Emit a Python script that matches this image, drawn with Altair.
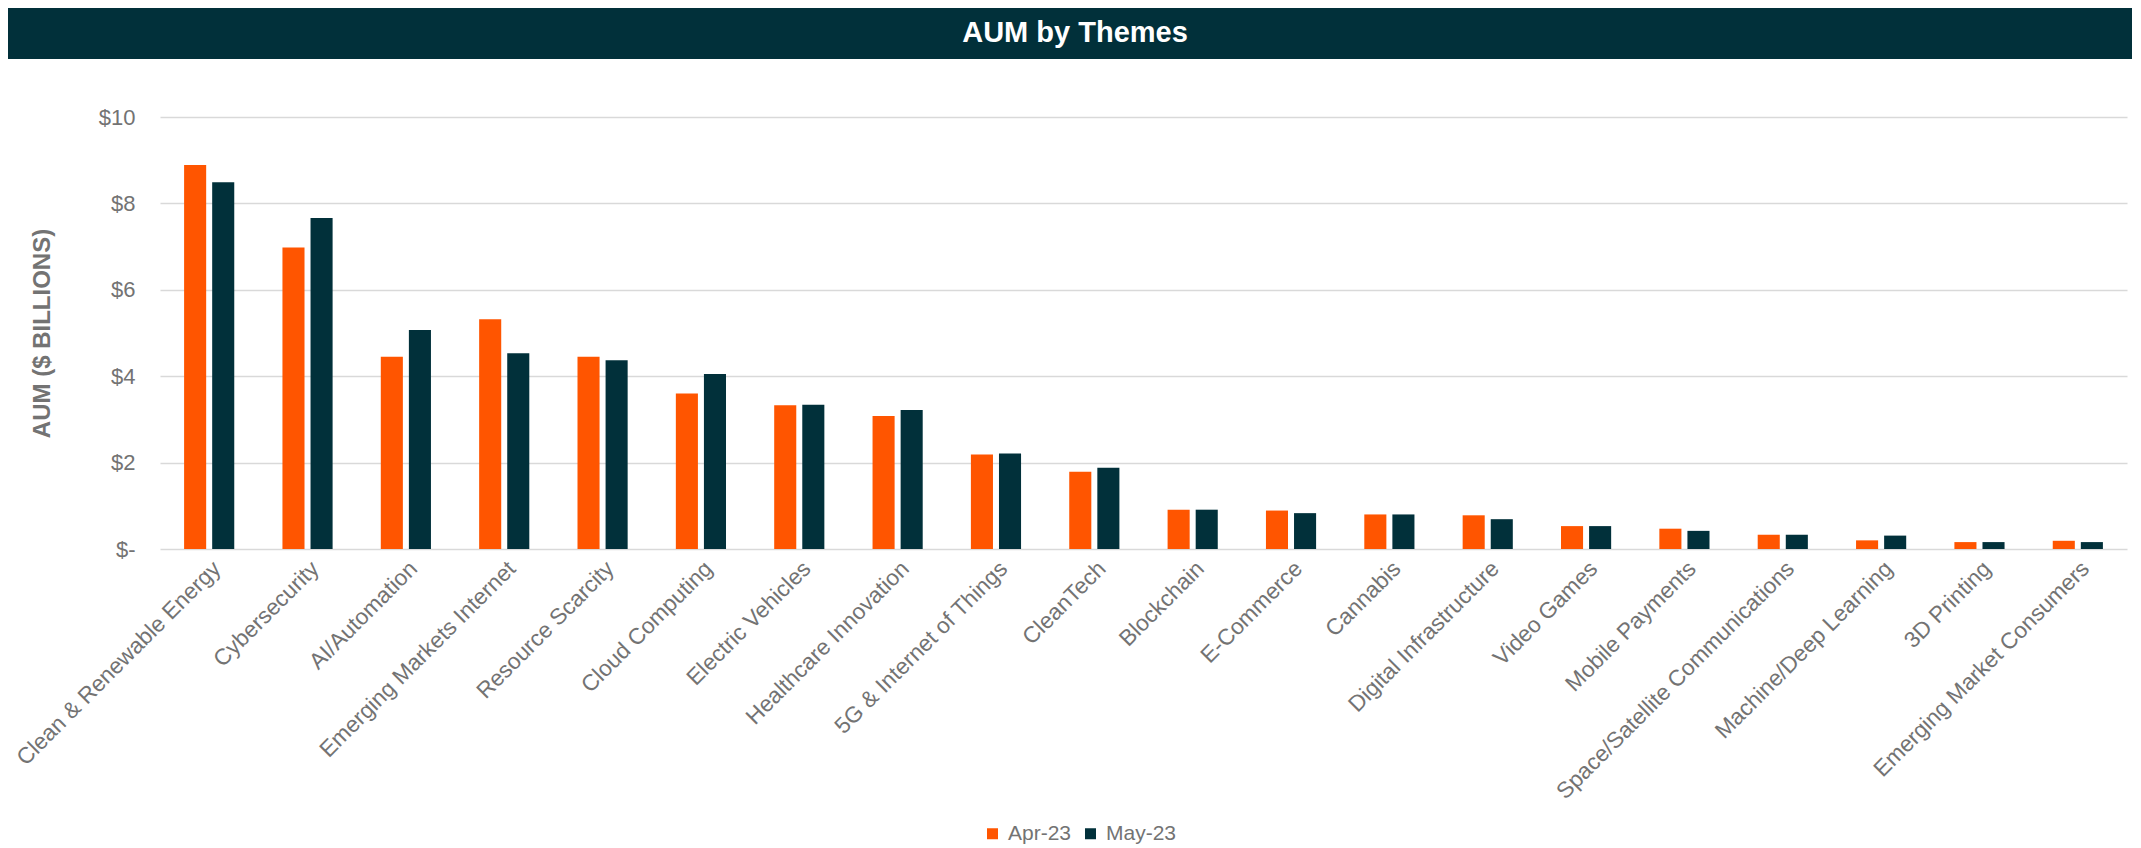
import altair as alt
import pandas as pd

themes = [
    "Clean & Renewable Energy", "Cybersecurity", "AI/Automation", "Emerging Markets Internet",
    "Resource Scarcity", "Cloud Computing", "Electric Vehicles", "Healthcare Innovation",
    "5G & Internet of Things", "CleanTech", "Blockchain", "E-Commerce", "Cannabis",
    "Digital Infrastructure", "Video Games", "Mobile Payments", "Space/Satellite Communications",
    "Machine/Deep Learning", "3D Printing", "Emerging Market Consumers",
]
apr_23 = [8.89, 6.98, 4.45, 5.32, 4.45, 3.60, 3.33, 3.08, 2.19, 1.79,
          0.91, 0.89, 0.80, 0.78, 0.53, 0.47, 0.33, 0.20, 0.16, 0.19]
may_23 = [8.49, 7.66, 5.07, 4.53, 4.37, 4.05, 3.34, 3.22, 2.21, 1.88,
          0.91, 0.83, 0.80, 0.69, 0.53, 0.42, 0.33, 0.31, 0.16, 0.16]
months = ["Apr-23", "May-23"]
colors = ["#FF5500", "#01303A"]
title_text = "AUM by Themes"

rows = []
for t, a, m in zip(themes, apr_23, may_23):
    rows.append({"Theme": t, "Month": months[0], "AUM": a})
    rows.append({"Theme": t, "Month": months[1], "AUM": m})
df = pd.DataFrame(rows)

FONT = "Liberation Sans"
GREY = "#737373"
W, H = 1967, 432

bars = alt.Chart(df).mark_bar().encode(
    x=alt.X("Theme:N", sort=themes,
            scale=alt.Scale(paddingInner=0.49, paddingOuter=0.245),
            axis=alt.Axis(title=None, labelAngle=-45, labelFontSize=22.6, labelColor=GREY,
                          labelFont=FONT, domain=False, ticks=False, labelPadding=8,
                          labelLimit=400)),
    xOffset=alt.XOffset("Month:N", sort=months, scale=alt.Scale(paddingInner=0.214)),
    y=alt.Y("AUM:Q", scale=alt.Scale(domain=[0, 10]),
            axis=alt.Axis(title="AUM ($ BILLIONS)", values=[0, 2, 4, 6, 8, 10],
                          labelExpr="datum.value == 0 ? '$-' : '$' + datum.value",
                          labelFontSize=22, labelColor=GREY, labelFont=FONT,
                          labelPadding=25, domain=False, ticks=False,
                          gridColor="#D9D9D9", gridWidth=1.5,
                          titleFont=FONT, titleFontSize=24, titleFontWeight="bold",
                          titleColor=GREY, titlePadding=44)),
    color=alt.Color("Month:N", sort=months,
                    scale=alt.Scale(domain=months, range=colors),
                    legend=alt.Legend(title=None, orient="none", legendX=822, legendY=706,
                                      direction="horizontal", symbolType="square",
                                      symbolSize=121, labelFontSize=21, labelColor=GREY,
                                      labelFont=FONT, columnPadding=8, labelOffset=5)),
)

header = alt.Chart(alt.Data(values=[{}])).mark_rect(color="#01303A").encode(
    x=alt.value(-152), x2=alt.value(1972), y=alt.value(-109), y2=alt.value(-58)
)
title = alt.Chart(alt.Data(values=[{}])).mark_text(
    text=title_text, fontSize=29, fontWeight="bold", color="white", font=FONT,
    align="center", baseline="alphabetic"
).encode(x=alt.value(915), y=alt.value(-75))

chart = alt.layer(bars, header, title).properties(
    width=W, height=H, padding=0
).configure_view(stroke=None)

chart.save("out.html", embed_options={"renderer": "svg", "actions": False})
